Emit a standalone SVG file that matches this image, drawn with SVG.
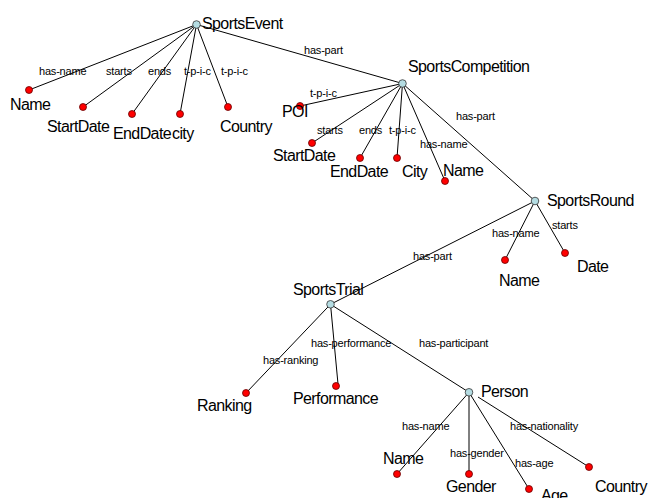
<svg xmlns="http://www.w3.org/2000/svg" width="649" height="498" viewBox="0 0 649 498">
<style>
.e{stroke:#000;stroke-width:1;fill:none}
.c{fill:#b4dce2;stroke:#333;stroke-width:0.8}
.v{fill:#ff0000;stroke:#600;stroke-width:0.8}
.t{font-family:"Liberation Sans",Arial,sans-serif;font-size:16px;letter-spacing:-0.6px;fill:#000}
.l{font-family:"Liberation Sans",Arial,sans-serif;font-size:11px;letter-spacing:-0.2px;fill:#000}
</style>
<rect width="649" height="498" fill="#fff"/>
<g id="connectors">
<line class="e" x1="196.5" y1="24.5" x2="29" y2="90"/>
<line class="e" x1="196.5" y1="24.5" x2="83" y2="107"/>
<line class="e" x1="196.5" y1="24.5" x2="132" y2="114"/>
<line class="e" x1="196.5" y1="24.5" x2="180" y2="114"/>
<line class="e" x1="196.5" y1="24.5" x2="228" y2="107"/>
<line class="e" x1="196.5" y1="24.5" x2="402.5" y2="83.5"/>
<line class="e" x1="402.5" y1="83.5" x2="300" y2="106"/>
<line class="e" x1="402.5" y1="83.5" x2="312" y2="143"/>
<line class="e" x1="402.5" y1="83.5" x2="360" y2="158"/>
<line class="e" x1="402.5" y1="83.5" x2="397" y2="158"/>
<line class="e" x1="402.5" y1="83.5" x2="445" y2="181"/>
<line class="e" x1="402.5" y1="83.5" x2="535" y2="201"/>
<line class="e" x1="535" y1="201" x2="505" y2="260"/>
<line class="e" x1="535" y1="201" x2="565" y2="253"/>
<line class="e" x1="535" y1="201" x2="330.5" y2="304.3"/>
<line class="e" x1="330.5" y1="304.3" x2="246" y2="393"/>
<line class="e" x1="330.5" y1="304.3" x2="338" y2="384"/>
<line class="e" x1="330.5" y1="304.3" x2="469" y2="392.3"/>
<line class="e" x1="469" y1="392.3" x2="397" y2="474"/>
<line class="e" x1="469" y1="392.3" x2="469" y2="474"/>
<line class="e" x1="469" y1="392.3" x2="529" y2="489"/>
<line class="e" x1="478" y1="397" x2="589" y2="467"/>
<text class="l" x="39" y="75">has-name</text>
<text class="l" x="106" y="75">starts</text>
<text class="l" x="148" y="75">ends</text>
<text class="l" x="184" y="75">t-p-i-c</text>
<text class="l" x="221" y="75">t-p-i-c</text>
<text class="l" x="304" y="54">has-part</text>
<text class="l" x="310" y="97">t-p-i-c</text>
<text class="l" x="317" y="133.5">starts</text>
<text class="l" x="359" y="133.5">ends</text>
<text class="l" x="389" y="133.5">t-p-i-c</text>
<text class="l" x="420" y="148">has-name</text>
<text class="l" x="456" y="120">has-part</text>
<text class="l" x="492" y="237">has-name</text>
<text class="l" x="552" y="228.5">starts</text>
<text class="l" x="413" y="259.5">has-part</text>
<text class="l" x="263" y="364">has-ranking</text>
<text class="l" x="311" y="347">has-performance</text>
<text class="l" x="419" y="347">has-participant</text>
<text class="l" x="402" y="429.5">has-name</text>
<text class="l" x="450" y="457">has-gender</text>
<text class="l" x="515" y="467">has-age</text>
<text class="l" x="510" y="429.5">has-nationality</text>
</g>
<g id="SportsEvent"><circle class="c" cx="196.5" cy="24.5" r="3.8"/><text class="t" x="202" y="28.5">SportsEvent</text></g>
<g id="SE_Name"><circle class="v" cx="29" cy="90" r="3.5"/><text class="t" x="10" y="110">Name</text></g>
<g id="SE_StartDate"><circle class="v" cx="83" cy="107" r="3.5"/><text class="t" x="47" y="131.5">StartDate</text></g>
<g id="SE_EndDate"><circle class="v" cx="132" cy="114" r="3.5"/><text class="t" x="113" y="139">EndDate</text></g>
<g id="SE_city"><circle class="v" cx="180" cy="114" r="3.5"/><text class="t" x="172" y="139">city</text></g>
<g id="SE_Country"><circle class="v" cx="228" cy="107" r="3.5"/><text class="t" x="220" y="132">Country</text></g>
<g id="SportsCompetition"><circle class="c" cx="402.5" cy="83.5" r="3.8"/><text class="t" x="408" y="72">SportsCompetition</text></g>
<g id="SC_POI"><circle class="v" cx="300" cy="106" r="3.5"/><text class="t" x="282" y="116.5">POI</text></g>
<g id="SC_StartDate"><circle class="v" cx="312" cy="143" r="3.5"/><text class="t" x="273" y="161">StartDate</text></g>
<g id="SC_EndDate"><circle class="v" cx="360" cy="158" r="3.5"/><text class="t" x="330" y="176.5">EndDate</text></g>
<g id="SC_City"><circle class="v" cx="397" cy="158" r="3.5"/><text class="t" x="402" y="176.5">City</text></g>
<g id="SC_Name"><circle class="v" cx="445" cy="181" r="3.5"/><text class="t" x="443" y="175.5">Name</text></g>
<g id="SportsRound"><circle class="c" cx="535" cy="201" r="3.8"/><text class="t" x="547" y="205.5">SportsRound</text></g>
<g id="SR_Name"><circle class="v" cx="505" cy="260" r="3.5"/><text class="t" x="499" y="286">Name</text></g>
<g id="SR_Date"><circle class="v" cx="565" cy="253" r="3.5"/><text class="t" x="577" y="271.5">Date</text></g>
<g id="SportsTrial"><circle class="c" cx="330.5" cy="304.3" r="3.8"/><text class="t" x="293" y="295">SportsTrial</text></g>
<g id="ST_Ranking"><circle class="v" cx="246" cy="393" r="3.5"/><text class="t" x="197" y="410.5">Ranking</text></g>
<g id="ST_Performance"><circle class="v" cx="336" cy="386" r="3.5"/><text class="t" x="293" y="403.5">Performance</text></g>
<g id="Person"><circle class="c" cx="469" cy="392.3" r="3.8"/><text class="t" x="481" y="397">Person</text></g>
<g id="P_Name"><circle class="v" cx="397" cy="474" r="3.5"/><text class="t" x="383" y="463.5">Name</text></g>
<g id="P_Gender"><circle class="v" cx="469" cy="474" r="3.5"/><text class="t" x="446" y="492">Gender</text></g>
<g id="P_Age"><circle class="v" cx="529" cy="489" r="3.5"/><text class="t" x="541" y="500.5">Age</text></g>
<g id="P_Country"><circle class="v" cx="589" cy="467" r="3.5"/><text class="t" x="595" y="491.5">Country</text></g>
</svg>
